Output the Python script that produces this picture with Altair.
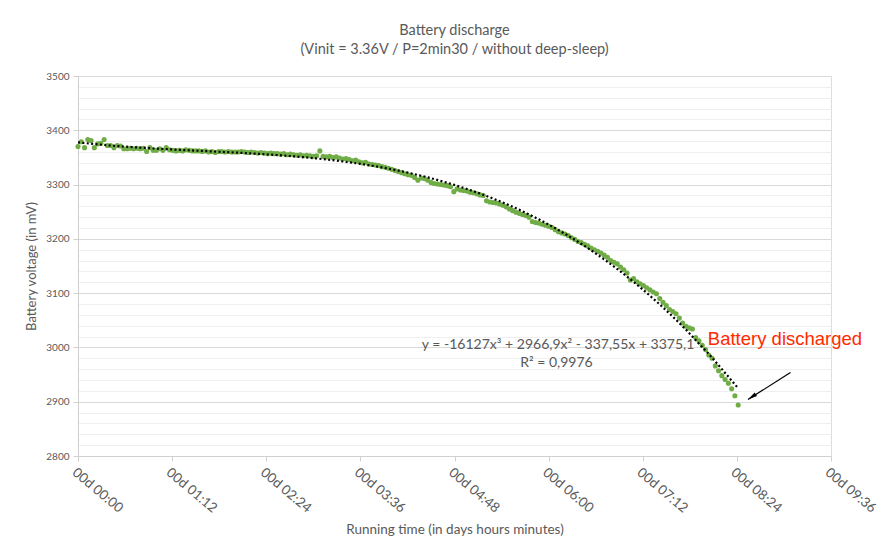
import altair as alt
import pandas as pd

# Sampling period from the title: P = 2min30
period_min = 2.5

voltage_mv = [
    3370, 3379, 3368, 3383, 3381, 3368, 3375, 3376, 3383, 3372, 3372, 3368, 3372,
    3371, 3366, 3366, 3367, 3366, 3367, 3366, 3367, 3361, 3368, 3363, 3363,
    3366, 3363, 3368, 3364, 3363, 3362, 3363, 3362, 3364, 3363, 3362, 3362,
    3362, 3361, 3362, 3360, 3361, 3359, 3361, 3361, 3360, 3361, 3360, 3360,
    3360, 3361, 3360, 3359, 3360, 3359, 3358, 3359, 3358, 3357, 3358, 3357,
    3357, 3356, 3357, 3355, 3356, 3355, 3354, 3355, 3353, 3354, 3353, 3352, 3353,
    3362, 3352, 3351, 3352, 3350, 3351, 3349, 3347, 3348, 3346, 3344, 3345,
    3342, 3340, 3341, 3338, 3337, 3336, 3335, 3333, 3332, 3330, 3328, 3326,
    3324, 3322, 3320, 3318, 3317, 3313, 3308, 3312, 3311, 3308, 3304, 3302,
    3301, 3300, 3299, 3298, 3296, 3287, 3292, 3290, 3289, 3288, 3286, 3285,
    3283, 3281, 3280, 3270, 3268, 3267, 3266, 3264, 3262, 3259, 3255, 3252,
    3249, 3247, 3245, 3243, 3240, 3232, 3230, 3229, 3227, 3225, 3223, 3221,
    3217, 3213, 3211, 3209, 3206, 3202, 3199, 3195, 3193, 3190, 3187, 3183,
    3180, 3177, 3174, 3170, 3166, 3160, 3157, 3154, 3148, 3143, 3137, 3124,
    3127, 3121, 3117, 3114, 3110, 3106, 3102, 3099, 3090, 3083, 3077, 3070,
    3066, 3062, 3054, 3045, 3039, 3036, 3034, 3018, 3012, 3004, 2996, 2986,
    2980, 2966, 2957, 2948, 2941, 2934, 2924, 2911, 2894,
]
time_min = [i * period_min for i in range(len(voltage_mv))]

tick_minutes = [0, 72, 144, 216, 288, 360, 432, 504, 576]
tick_labels = ["00d 00:00", "00d 01:12", "00d 02:24", "00d 03:36", "00d 04:48",
               "00d 06:00", "00d 07:12", "00d 08:24", "00d 09:36"]
y_ticks = list(range(2800, 3501, 20))

title_text = "Battery discharge"
subtitle_text = "(Vinit = 3.36V / P=2min30 / without deep-sleep)"
eq_text = ["y = -16127x³ + 2966,9x² - 337,55x + 3375,1"]
eq_pos = [471.5, 3004]
r2_text = ["R² = 0,9976"]
r2_pos = [366, 2971]
note_text = ["Battery discharged"]
note_pos = [481.8, 3015.5]
arrow_from = [545, 2954]
arrow_to = [512.5, 2904]

df = pd.DataFrame({"t": time_min, "v": voltage_mv})

FONT = "Lato"
GREY = "#595959"

label_array = "[" + ",".join(f"'{s}'" for s in tick_labels) + "]"

x_enc = alt.X(
    "t:Q",
    scale=alt.Scale(domain=[0, 576], nice=False, zero=False),
    axis=alt.Axis(
        values=tick_minutes,
        tickCount=20,
        labelExpr=f"{label_array}[round(datum.value/72)]",
        labelAngle=40,
        labelAlign="left",
        labelBaseline="top",
        labelFontSize=13.5,
        labelColor=GREY,
        labelFont=FONT,
        labelPadding=4,
        labelOverlap=False,
        labelBound=False,
        title="Running time (in days hours minutes)",
        titleFont=FONT,
        titleFontSize=13.5,
        titleFontWeight="normal",
        titleColor=GREY,
        titlePadding=8,
        grid=False,
        domainColor="#d0d0d0",
        tickColor="#d0d0d0",
        tickSize=5,
    ),
)

y_enc = alt.Y(
    "v:Q",
    scale=alt.Scale(domain=[2800, 3500], nice=False, zero=False),
    axis=alt.Axis(
        values=y_ticks,
        tickCount=40,
        labelExpr="datum.value % 100 == 0 ? '' + datum.value : ''",
        labelOverlap=False,
        labelFontSize=10,
        labelColor=GREY,
        labelFont=FONT,
        labelPadding=4,
        title="Battery voltage (in mV)",
        titleFont=FONT,
        titleFontSize=13,
        titleFontWeight="normal",
        titleColor=GREY,
        titlePadding=7,
        grid=True,
        gridColor=alt.condition("datum.value % 100 == 0", alt.value("#d9d9d9"), alt.value("#efefef")),
        tickColor=alt.condition("datum.value % 100 == 0", alt.value("#d0d0d0"), alt.value("transparent")),
        tickSize=5,
        domainColor="#d0d0d0",
    ),
)

points = alt.Chart(df).mark_circle(size=26, color="#70AD47", opacity=1).encode(x=x_enc, y=y_enc)

trend = (
    alt.Chart(df)
    .transform_regression("t", "v", method="poly", order=3)
    .mark_line(color="black", strokeWidth=2.2, strokeDash=[2, 2.4])
    .encode(x="t:Q", y="v:Q")
)

eq = alt.Chart(pd.DataFrame({"t": [eq_pos[0]], "v": [eq_pos[1]], "s": eq_text})).mark_text(
    align="right", baseline="middle", font=FONT, fontSize=14, color=GREY
).encode(x="t:Q", y="v:Q", text="s:N")

r2 = alt.Chart(pd.DataFrame({"t": [r2_pos[0]], "v": [r2_pos[1]], "s": r2_text})).mark_text(
    align="center", baseline="middle", font=FONT, fontSize=14, color=GREY
).encode(x="t:Q", y="v:Q", text="s:N")

note = alt.Chart(pd.DataFrame({"t": [note_pos[0]], "v": [note_pos[1]], "s": note_text})).mark_text(
    align="left", baseline="middle", font="Liberation Sans", fontSize=18.5, color="#FF2A00"
).encode(x="t:Q", y="v:Q", text="s:N")

arrow_df = pd.DataFrame({"t": [arrow_from[0]], "v": [arrow_from[1]],
                         "t2": [arrow_to[0]], "v2": [arrow_to[1]]})
arrow_line = alt.Chart(arrow_df).mark_rule(color="black", strokeWidth=1.2).encode(
    x="t:Q", y="v:Q", x2="t2:Q", y2="v2:Q"
)
head_df = pd.DataFrame({"t": [arrow_to[0]], "v": [arrow_to[1]]})
arrow_head = alt.Chart(head_df).mark_point(
    shape="M0,0 L0.45,2 L-0.45,2 Z", size=90, filled=True, color="black", opacity=1, angle=236
).encode(x="t:Q", y="v:Q")

chart = (
    alt.layer(points, trend, eq, r2, note, arrow_line, arrow_head)
    .properties(
        width=753,
        height=380,
        autosize="none",
        padding={"left": 70, "top": 68, "right": 49, "bottom": 90},
        title=alt.Title(
            title_text,
            subtitle=subtitle_text,
            font=FONT,
            fontSize=14.5,
            fontWeight="normal",
            color=GREY,
            subtitleFont=FONT,
            subtitleFontSize=14.5,
            subtitleColor=GREY,
            subtitlePadding=4,
            anchor="middle",
            offset=14,
        ),
    )
    .configure_view(stroke=None)
    .configure(background="white")
)

chart.save("out.html", embed_options={"renderer": "svg", "actions": False})
